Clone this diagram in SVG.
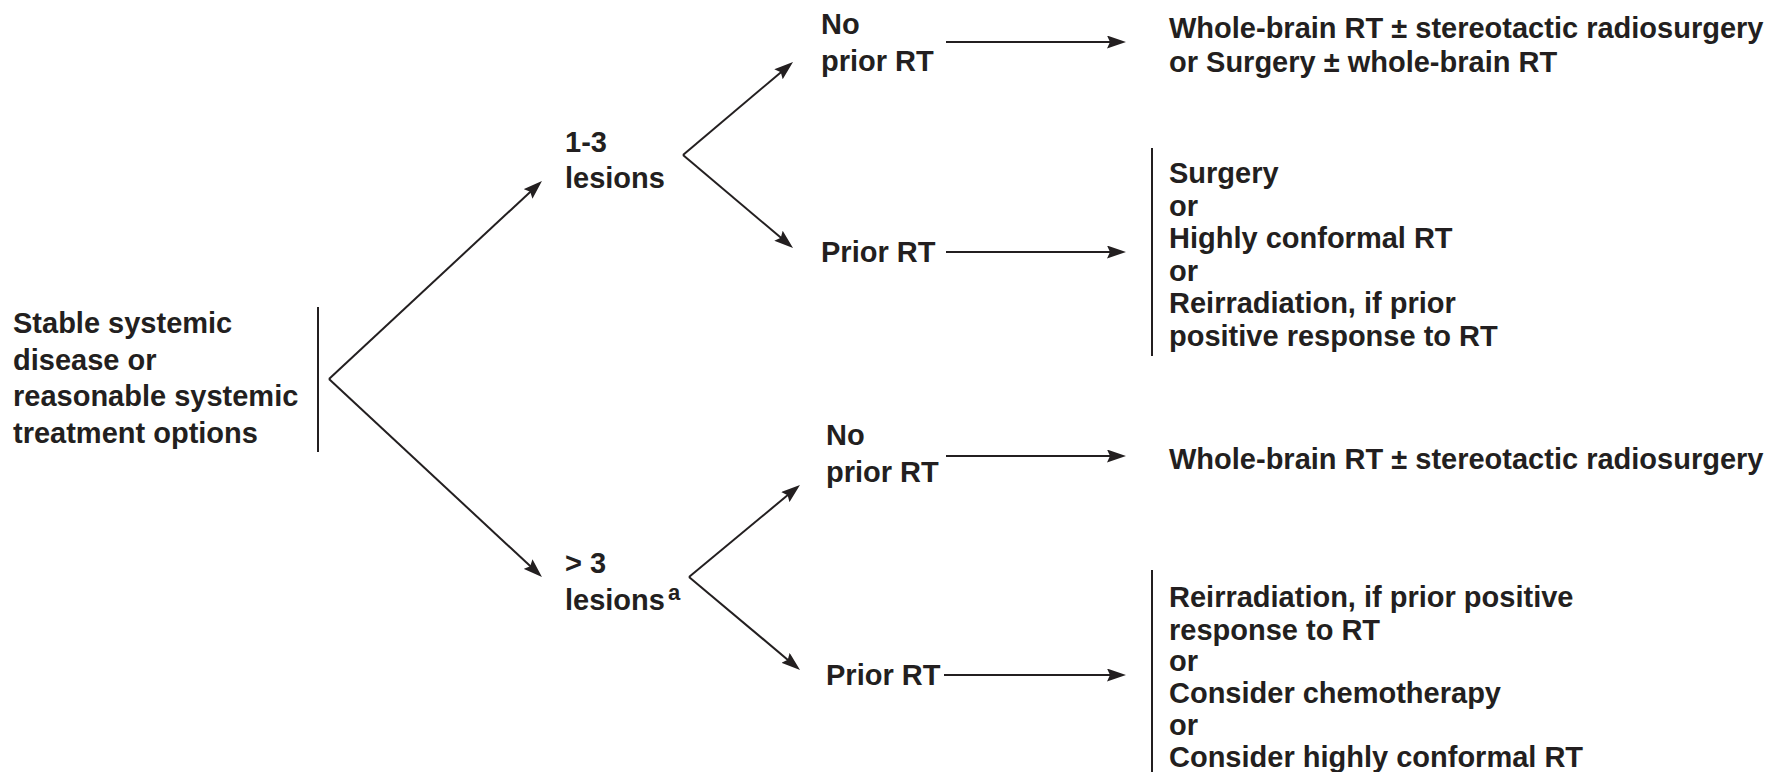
<svg xmlns="http://www.w3.org/2000/svg" width="1773" height="772" viewBox="0 0 1773 772">
  <style>
    text { font-family: "Liberation Sans", Arial, Helvetica, sans-serif; font-weight: bold; font-size: 29px; fill: #231f20; }
    .sup { font-size: 22px; }
    .edge { stroke: #231f20; stroke-width: 2; fill: none; }
    .bar { stroke: #231f20; stroke-width: 2; fill: none; }
  </style>
  <defs>
    <marker id="arrow" viewBox="0 0 19 13" refX="11" refY="6.5" markerWidth="19" markerHeight="13" markerUnits="userSpaceOnUse" orient="auto">
      <path d="M0,0 L19,6.5 L0,13 L3,6.5 z" fill="#231f20"/>
    </marker>
  </defs>
  <rect width="1773" height="772" fill="#ffffff"/>

  <!-- root condition -->
  <g id="node-stable">
    <text x="13" y="333">Stable systemic</text>
    <text x="13" y="369.5">disease or</text>
    <text x="13" y="406">reasonable systemic</text>
    <text x="13" y="442.5">treatment options</text>
    <line class="bar" x1="318" y1="307" x2="318" y2="452"/>
  </g>

  <!-- lesion count -->
  <g id="node-1-3-lesions">
    <text x="565" y="152">1-3</text>
    <text x="565" y="188">lesions</text>
  </g>
  <g id="node-gt3-lesions">
    <text x="565" y="573">&gt; 3</text>
    <text x="565" y="610">lesions</text>
    <text class="sup" x="668" y="600">a</text>
  </g>

  <!-- prior radiotherapy status -->
  <g id="node-no-prior-1">
    <text x="821" y="34">No</text>
    <text x="821" y="71">prior RT</text>
  </g>
  <g id="node-prior-1">
    <text x="821" y="262">Prior RT</text>
  </g>
  <g id="node-no-prior-2">
    <text x="826" y="445">No</text>
    <text x="826" y="482">prior RT</text>
  </g>
  <g id="node-prior-2">
    <text x="826" y="685">Prior RT</text>
  </g>

  <!-- treatment options -->
  <g id="node-tx-1">
    <text x="1169" y="38">Whole-brain RT ± stereotactic radiosurgery</text>
    <text x="1169" y="72">or Surgery ± whole-brain RT</text>
  </g>
  <g id="node-tx-2">
    <line class="bar" x1="1152" y1="148" x2="1152" y2="356"/>
    <text x="1169" y="183">Surgery</text>
    <text x="1169" y="215.5">or</text>
    <text x="1169" y="248">Highly conformal RT</text>
    <text x="1169" y="280.5">or</text>
    <text x="1169" y="313">Reirradiation, if prior</text>
    <text x="1169" y="345.5">positive response to RT</text>
  </g>
  <g id="node-tx-3">
    <text x="1169" y="469">Whole-brain RT ± stereotactic radiosurgery</text>
  </g>
  <g id="node-tx-4">
    <line class="bar" x1="1152" y1="570" x2="1152" y2="772"/>
    <text x="1169" y="607">Reirradiation, if prior positive</text>
    <text x="1169" y="639.5">response to RT</text>
    <text x="1169" y="671">or</text>
    <text x="1169" y="703">Consider chemotherapy</text>
    <text x="1169" y="735">or</text>
    <text x="1169" y="767">Consider highly conformal RT</text>
  </g>

  <!-- connectors -->
  <g id="connectors">
    <line class="edge" x1="329" y1="379" x2="536.1" y2="186.4" marker-end="url(#arrow)"/>
    <line class="edge" x1="329" y1="379" x2="536.1" y2="571.6" marker-end="url(#arrow)"/>
    <line class="edge" x1="683" y1="155" x2="786.9" y2="67.2" marker-end="url(#arrow)"/>
    <line class="edge" x1="683" y1="155" x2="786.9" y2="242.8" marker-end="url(#arrow)"/>
    <line class="edge" x1="689" y1="577" x2="793.8" y2="490.1" marker-end="url(#arrow)"/>
    <line class="edge" x1="689" y1="577" x2="793.9" y2="664.9" marker-end="url(#arrow)"/>
    <line class="edge" x1="946" y1="42" x2="1118" y2="42" marker-end="url(#arrow)"/>
    <line class="edge" x1="946" y1="252" x2="1118" y2="252" marker-end="url(#arrow)"/>
    <line class="edge" x1="946" y1="456" x2="1118" y2="456" marker-end="url(#arrow)"/>
    <line class="edge" x1="944" y1="675" x2="1118" y2="675" marker-end="url(#arrow)"/>
  </g>
</svg>
